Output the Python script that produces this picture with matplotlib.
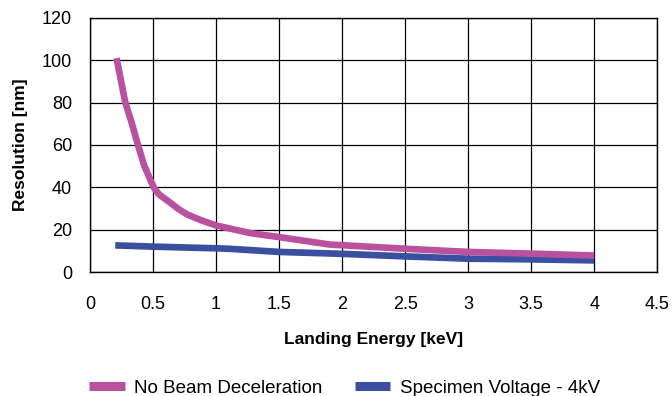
from matplotlib import pyplot as plt

plt.rcParams['font.family'] = ['Liberation Sans', 'DejaVu Sans']

# Data
energyNoDecel = [0.21, 0.25, 0.28, 0.33, 0.38, 0.43, 0.49, 0.51, 0.55, 0.62, 0.7, 0.77, 0.88, 1.0, 1.27, 1.5, 1.9, 2.5, 3.0, 3.5, 4.0]
resNoDecel = [101, 89, 80, 70.5, 60, 50.2, 42, 39.5, 36.5, 33.5, 29.8, 27.2, 24.5, 22, 18.4, 16.5, 13, 11, 9.5, 8.7, 7.8]
energySpecimen = [0.2, 0.5, 1.0, 1.1, 1.5, 2.0, 2.5, 3.0, 3.5, 4.0]
resSpecimen = [12.6, 12.0, 11.2, 11.0, 9.5, 8.6, 7.4, 6.3, 6.0, 5.5]
xTicks = [0, 0.5, 1, 1.5, 2, 2.5, 3, 3.5, 4, 4.5]
yTicks = [0, 20, 40, 60, 80, 100, 120]

MAGENTA = '#b9519e'
BLUE = '#3a4fa0'

fig = plt.figure(figsize = (6.72, 3.96), dpi = 100)
ax = fig.add_axes([0.134, 0.313, 0.844, 0.642])

ax.plot(energyNoDecel, resNoDecel, color = MAGENTA, linewidth = 4.8, solid_capstyle = 'butt', solid_joinstyle = 'round', label = 'No Beam Deceleration', zorder = 3)
ax.plot(energySpecimen, resSpecimen, color = BLUE, linewidth = 4.8, solid_capstyle = 'butt', solid_joinstyle = 'round', label = 'Specimen Voltage - 4kV', zorder = 2)

ax.set_xlim(0, 4.5)
ax.set_ylim(0, 120)
ax.set_xticks(xTicks)
ax.set_xticklabels([f'{t:g}' for t in xTicks])
ax.set_yticks(yTicks)
ax.grid(True, color = 'black', linewidth = 0.9)
ax.tick_params(length = 0, labelsize = 13, pad = 13)
ax.tick_params(axis = 'x', pad = 17)
for spine in ax.spines.values():
    spine.set_color('black')
    spine.set_linewidth(1.0)

ax.set_ylabel('Resolution [nm]', fontsize = 12.5, fontweight = 'bold', labelpad = 10)
ax.set_xlabel('Landing Energy [keV]', fontsize = 12.5, fontweight = 'bold', labelpad = 14)

fig.legend(loc = 'lower left', bbox_to_anchor = (0.108, -0.045), ncol = 2, frameon = False, fontsize = 13.5, handlelength = 1.9, columnspacing = 1.7, handletextpad = 0.5)
for line in fig.legends[0].get_lines():
    line.set_linewidth(6.5)

fig.savefig('out.png', dpi = 100)
